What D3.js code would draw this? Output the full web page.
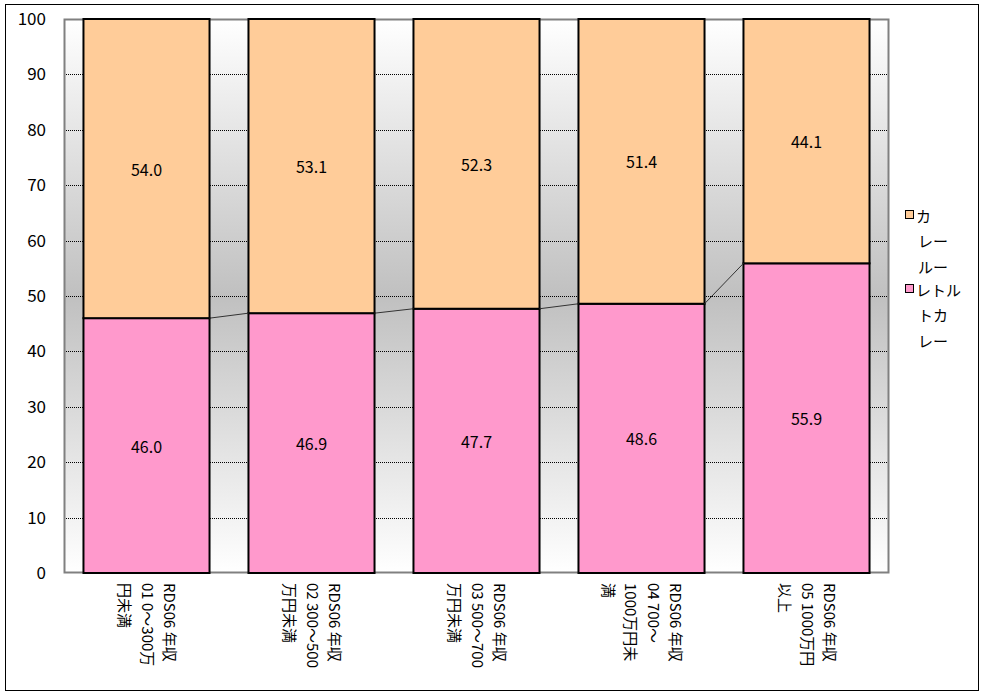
<!DOCTYPE html>
<html><head><meta charset="utf-8">
<script src="https://cdn.jsdelivr.net/npm/d3@7"></script>
<style>body{margin:0;background:#fff}svg{display:block}</style>
</head><body>
<script>
const categories = [
  ["RDS06 年収", "01 0～300万", "円未満"],
  ["RDS06 年収", "02 300～500", "万円未満"],
  ["RDS06 年収", "03 500～700", "万円未満"],
  ["RDS06 年収", "04 700～", "1000万円未", "満"],
  ["RDS06 年収", "05 1000万円", "以上"]
];
const retort = [46.0, 46.9, 47.7, 48.6, 55.9];
const roux = [54.0, 53.1, 52.3, 51.4, 44.1];
const seriesNames = [["カ", "レー", "ルー"], ["レトル", "トカ", "レー"]];
const yTicks = [0, 10, 20, 30, 40, 50, 60, 70, 80, 90, 100];

const W = 985, H = 696;
const svg = d3.select("body").append("svg").attr("width", W).attr("height", H);
const font = "'Noto Sans CJK JP', 'Noto Sans', sans-serif";

svg.append("rect").attr("x", 5.5).attr("y", 4.5).attr("width", 973).attr("height", 686)
  .attr("fill", "#fff").attr("stroke", "#000").attr("stroke-width", 1);

const L = 64, R = 889, T = 19, B = 573;
const x = d3.scaleBand().domain(d3.range(categories.length)).range([L, R]).paddingInner(0.236).paddingOuter(0.118);
const y = d3.scaleLinear().domain([0, 100]).range([B, T]);

const defs = svg.append("defs");
const grad = defs.append("linearGradient").attr("id", "bg").attr("x1", 0).attr("y1", 0).attr("x2", 0).attr("y2", 1);
grad.append("stop").attr("offset", "0%").attr("stop-color", "#ffffff");
grad.append("stop").attr("offset", "50%").attr("stop-color", "#c0c0c0");
grad.append("stop").attr("offset", "100%").attr("stop-color", "#ffffff");

svg.append("rect").attr("x", L).attr("y", T).attr("width", R - L).attr("height", B - T).attr("fill", "url(#bg)");

// gridlines
svg.append("g").selectAll("line").data(yTicks.filter(d => d > 0 && d < 100)).join("line")
  .attr("x1", L).attr("x2", R).attr("y1", d => Math.round(y(d)) + 0.5).attr("y2", d => Math.round(y(d)) + 0.5)
  .attr("stroke", "#000").attr("stroke-width", 1).attr("stroke-dasharray", "1,1");

// plot border
svg.append("rect").attr("x", L + 0.5).attr("y", T + 0.5).attr("width", R - L - 1).attr("height", B - T - 1)
  .attr("fill", "none").attr("stroke", "#808080").attr("stroke-width", 2);

// y axis labels
const yAxis = d3.axisLeft(y).tickValues(yTicks).tickSize(0).tickPadding(18);
const gy = svg.append("g").attr("transform", `translate(${L},0)`).call(yAxis);
gy.select(".domain").remove();
gy.selectAll("text").attr("font-family", font).attr("font-size", 17).attr("fill", "#000");

// bars
const bars = svg.append("g");
bars.selectAll("rect.p").data(retort).join("rect").attr("class", "p")
  .attr("x", (d, i) => x(i)).attr("width", x.bandwidth())
  .attr("y", d => y(d)).attr("height", d => y(0) - y(d))
  .attr("fill", "#FF99CC").attr("stroke", "#000").attr("stroke-width", 2);
bars.selectAll("rect.o").data(roux).join("rect").attr("class", "o")
  .attr("x", (d, i) => x(i)).attr("width", x.bandwidth())
  .attr("y", (d, i) => y(retort[i] + d)).attr("height", (d, i) => y(retort[i]) - y(retort[i] + d))
  .attr("fill", "#FFCC99").attr("stroke", "#000").attr("stroke-width", 2);

// series lines
const sl = svg.append("g");
for (let i = 0; i < retort.length - 1; i++) {
  sl.append("line").attr("x1", x(i) + x.bandwidth()).attr("y1", y(retort[i]))
    .attr("x2", x(i + 1)).attr("y2", y(retort[i + 1]))
    .attr("stroke", "#333").attr("stroke-width", 1);
}

// value labels
const lab = svg.append("g").attr("font-family", font).attr("font-size", 16).attr("text-anchor", "middle");
lab.selectAll("text.p").data(retort).join("text").attr("class", "p")
  .attr("x", (d, i) => x(i) + x.bandwidth() / 2).attr("y", d => y(d / 2))
  .attr("dominant-baseline", "central").text(d => d.toFixed(1));
lab.selectAll("text.o").data(roux).join("text").attr("class", "o")
  .attr("x", (d, i) => x(i) + x.bandwidth() / 2).attr("y", (d, i) => y(retort[i] + d / 2))
  .attr("dominant-baseline", "central").text(d => d.toFixed(1));

// x labels rotated
const lh = 22.5;
const xl = svg.append("g").attr("font-family", font).attr("font-size", 15);
categories.forEach((lines, i) => {
  const cx = x(i) + x.bandwidth() / 2 + 2;
  const t = xl.append("text").attr("transform", `translate(${cx},583) rotate(90)`)
    .attr("dominant-baseline", "central");
  lines.forEach((s, j) => {
    t.append("tspan").attr("x", 0).attr("y", (j - (lines.length - 1) / 2) * lh).text(s);
  });
});

// legend
const colors = ["#FFCC99", "#FF99CC"];
const lg = svg.append("g").attr("font-family", font).attr("font-size", 15);
const starts = [215, 289];
seriesNames.forEach((lines, k) => {
  lg.append("rect").attr("x", 905.5).attr("y", starts[k] - 4.5).attr("width", 8).attr("height", 8)
    .attr("fill", colors[k]).attr("stroke", "#000").attr("stroke-width", 1);
  lines.forEach((s, j) => {
    lg.append("text").attr("x", j === 0 ? 916 : 918).attr("y", starts[k] + j * 25.5)
      .attr("dominant-baseline", "central").text(s);
  });
});
</script>
</body></html>
